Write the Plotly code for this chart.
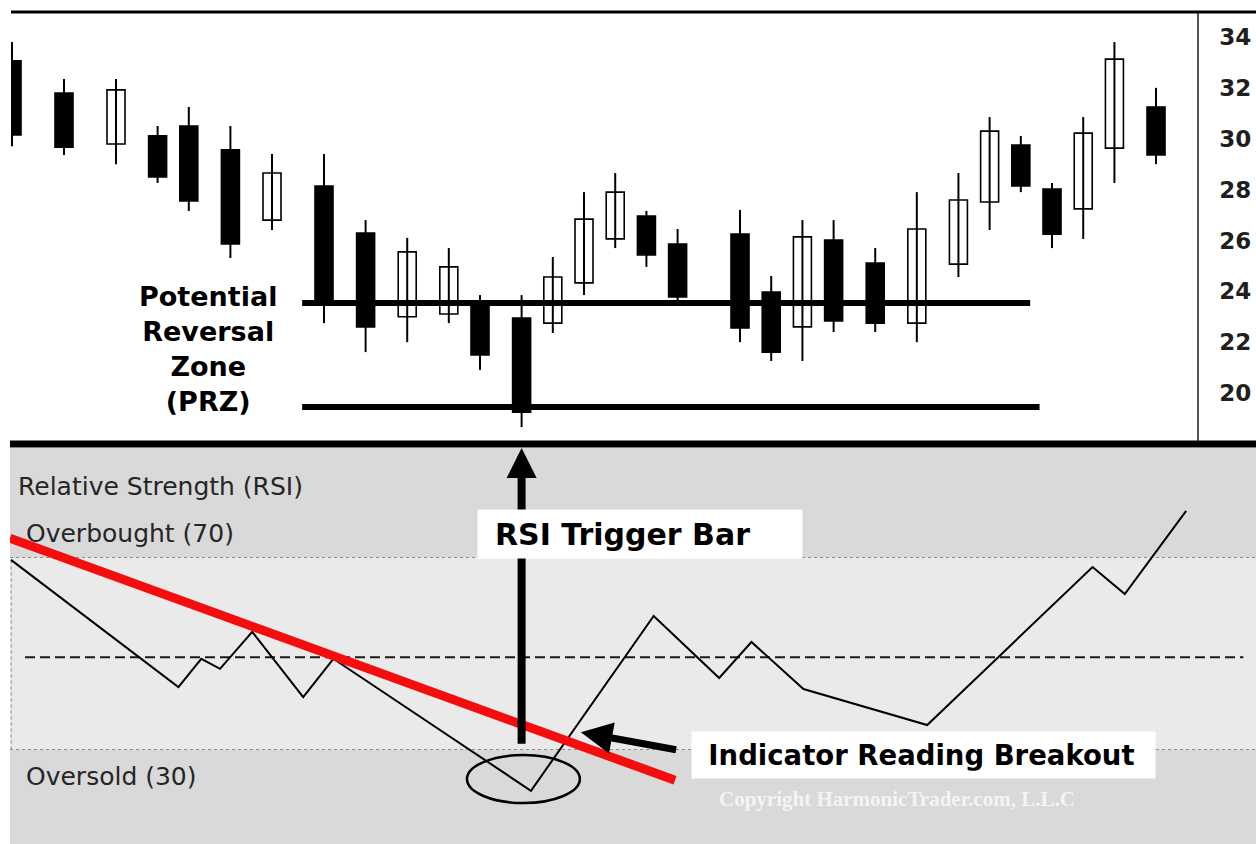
import plotly.graph_objects as go

# ---------------- data ----------------
# bar positions (trading-day index) and OHLC of the price panel
BAR_POS = [0, 5, 10, 14, 17, 21, 25, 30, 34, 38, 42, 45, 49, 52, 55, 58,
           61, 64, 70, 73, 76, 79, 83, 87, 91, 94, 97, 100, 103, 106, 110]
OPEN = [33.06, 31.80, 29.79, 30.11, 30.50, 29.56, 26.80, 28.14, 26.29, 23.00,
        23.11, 23.58, 22.95, 22.75, 24.33, 26.06, 26.96, 25.86, 26.25, 23.97,
        22.60, 26.02, 25.11, 22.75, 25.07, 27.51, 29.75, 28.02, 27.24, 29.63, 31.25]
HIGH = [33.80, 32.35, 32.35, 30.50, 31.25, 30.50, 29.40, 29.40, 26.80, 26.10,
        25.70, 23.85, 23.85, 25.35, 27.90, 28.65, 27.16, 26.45, 27.20, 24.60,
        26.80, 26.80, 25.70, 27.90, 28.65, 30.85, 30.11, 28.26, 30.85, 33.80, 32.00]
LOW = [29.70, 29.36, 29.00, 28.26, 27.16, 25.31, 26.41, 22.75, 21.61, 22.00,
       22.75, 20.91, 18.66, 22.36, 23.85, 25.70, 24.96, 23.54, 22.00, 21.26,
       21.26, 22.40, 22.40, 22.00, 24.56, 26.41, 27.90, 25.70, 26.06, 28.26, 29.00]
CLOSE = [30.15, 29.67, 31.92, 28.50, 27.55, 25.86, 28.65, 23.58, 22.60, 25.55,
         24.96, 21.50, 19.25, 24.56, 26.84, 27.90, 25.43, 23.78, 22.56, 21.61,
         26.14, 22.83, 22.75, 26.45, 27.59, 30.30, 28.14, 26.25, 30.22, 33.13, 29.36]
PRICE_TICKS = [20, 22, 24, 26, 28, 30, 32, 34]

# Potential Reversal Zone levels
PRZ_LEVELS = [23.54, 19.45]
PRZ_START = [27.9, 27.9]
PRZ_END = [97.9, 98.8]

# RSI panel
RSI_X = [-0.1, 16, 18.2, 20, 23.1, 28, 30.9, 49.9, 61.7, 68, 71.1, 76.1, 88, 103.9, 107, 112.9]
RSI_Y = [69.5, 43.0, 48.9, 46.8, 54.5, 40.9, 48.9, 21.4, 57.8, 44.9, 52.4, 42.6, 35.1, 68.0, 62.4, 79.7]
OVERBOUGHT = 70
OVERSOLD = 30
MIDLINE = 49.2
TREND_X = [-0.2, 63.75]
TREND_Y = [74.0, 23.6]
TRIGGER_BAR = 49
BREAKOUT_X, BREAKOUT_Y = 54.7, 33.6

# ---------------- geometry helpers (page pixels -> paper) ----------------
W, H = 1256, 844
def px(x):
    return x / W
def py(y):
    return 1 - y / H

FONT = "DejaVu Sans"

fig = go.Figure()

# wicks
wx, wy = [], []
for p, h, l in zip(BAR_POS, HIGH, LOW):
    wx += [p, p, None]
    wy += [l, h, None]
fig.add_trace(go.Scatter(x=wx, y=wy, mode="lines", line=dict(color="black", width=2),
                         xaxis="x", yaxis="y", hoverinfo="skip"))

# bodies
up = [i for i in range(len(BAR_POS)) if CLOSE[i] >= OPEN[i]]
dn = [i for i in range(len(BAR_POS)) if CLOSE[i] < OPEN[i]]
for idx, fill in ((up, "white"), (dn, "black")):
    fig.add_trace(go.Bar(
        x=[BAR_POS[i] for i in idx],
        y=[abs(CLOSE[i] - OPEN[i]) for i in idx],
        base=[min(CLOSE[i], OPEN[i]) for i in idx],
        width=1.73,
        marker=dict(color=fill, line=dict(color="black", width=1.6)),
        xaxis="x", yaxis="y", hoverinfo="skip"))

# PRZ lines
for lvl, x0, x1 in zip(PRZ_LEVELS, PRZ_START, PRZ_END):
    fig.add_trace(go.Scatter(x=[x0, x1], y=[lvl, lvl], mode="lines",
                             line=dict(color="black", width=6),
                             xaxis="x", yaxis="y", hoverinfo="skip"))

# RSI line
fig.add_trace(go.Scatter(x=RSI_X, y=RSI_Y, mode="lines", line=dict(color="black", width=2),
                         xaxis="x2", yaxis="y2", hoverinfo="skip"))
# trend line
fig.add_trace(go.Scatter(x=TREND_X, y=TREND_Y, mode="lines", line=dict(color="#f40d0d", width=9),
                         xaxis="x2", yaxis="y2", hoverinfo="skip"))

shapes = [
    # RSI background
    dict(type="rect", xref="x2 domain", yref="y2 domain", x0=0, x1=1, y0=0, y1=1,
         fillcolor="#d9d9d9", line=dict(width=0), layer="below"),
    dict(type="rect", xref="x2 domain", yref="y2", x0=0, x1=1, y0=OVERSOLD, y1=OVERBOUGHT,
         fillcolor="#eaeaea", line=dict(width=0), layer="below"),
    dict(type="line", xref="x2 domain", yref="y2", x0=0, x1=1, y0=OVERBOUGHT, y1=OVERBOUGHT,
         line=dict(color="#8c8c8c", width=1, dash="dot"), layer="below"),
    dict(type="line", xref="x2 domain", yref="y2", x0=0, x1=1, y0=OVERSOLD, y1=OVERSOLD,
         line=dict(color="#8c8c8c", width=1, dash="dot"), layer="below"),
    dict(type="line", xref="x2 domain", yref="y2", x0=0.001, x1=0.001, y0=OVERSOLD, y1=OVERBOUGHT,
         line=dict(color="#8c8c8c", width=1, dash="dot"), layer="below"),
    dict(type="line", xref="x2", yref="y2", x0=1.25, x1=118.4, y0=MIDLINE, y1=MIDLINE,
         line=dict(color="#1a1a1a", width=2, dash="10px,5px"), layer="below"),
    # ellipse around the RSI low
    dict(type="circle", xref="x2", yref="y2", x0=43.75, x1=54.6, y0=18.85, y1=28.85,
         line=dict(color="black", width=2.5)),
    # frame lines
    dict(type="line", xref="paper", yref="paper", x0=px(11), x1=1, y0=py(12), y1=py(12),
         line=dict(color="black", width=3)),
    dict(type="line", xref="paper", yref="paper", x0=px(10), x1=1, y0=py(444), y1=py(444),
         line=dict(color="black", width=7)),
]

annotations = [
    dict(x=px(208), y=py(349), xref="paper", yref="paper", xanchor="center", yanchor="middle",
         text="Potential<br>Reversal<br>Zone<br>(PRZ)", showarrow=False, align="center",
         font=dict(family=FONT, size=27, color="black", weight="bold")),
    dict(x=px(16), y=py(486), xref="paper", yref="paper", xanchor="left", yanchor="middle",
         text="Relative Strength (RSI)", showarrow=False,
         font=dict(family=FONT, size=25, color="#262626")),
    dict(x=px(24), y=py(533), xref="paper", yref="paper", xanchor="left", yanchor="middle",
         text="Overbought (70)", showarrow=False,
         font=dict(family=FONT, size=25, color="#262626")),
    dict(x=px(24), y=py(776), xref="paper", yref="paper", xanchor="left", yanchor="middle",
         text="Oversold (30)", showarrow=False,
         font=dict(family=FONT, size=25, color="#262626")),
    # vertical trigger arrow
    dict(x=TRIGGER_BAR, y=92.8, xref="x2", yref="y2", ax=TRIGGER_BAR, ay=30.9,
         axref="x2", ayref="y2", text="", showarrow=True, arrowhead=2,
         arrowwidth=8, arrowsize=0.75, arrowcolor="black"),
    dict(x=px(640), y=py(534), xref="paper", yref="paper", xanchor="center", yanchor="middle",
         text="\u00a0RSI Trigger Bar", showarrow=False, align="left", width=311,
         bgcolor="white", borderpad=6.5,
         font=dict(family=FONT, size=30, color="black", weight="bold")),
    # breakout arrow
    dict(x=BREAKOUT_X, y=BREAKOUT_Y, xref="x2", yref="y2", ax=64.0, ay=29.9,
         axref="x2", ayref="y2", text="", showarrow=True, arrowhead=2,
         arrowwidth=7, arrowsize=0.9, arrowcolor="black"),
    dict(x=px(923.5), y=py(754.5), xref="paper", yref="paper", xanchor="center", yanchor="middle",
         text="\u00a0Indicator Reading Breakout", showarrow=False, align="left", width=449,
         bgcolor="white", borderpad=6.8,
         font=dict(family=FONT, size=27.5, color="black", weight="bold")),
    dict(x=px(717), y=py(799), xref="paper", yref="paper", xanchor="left", yanchor="middle",
         text="Copyright HarmonicTrader.com, L.L.C", showarrow=False,
         font=dict(family="Liberation Serif", size=21, color="#f4f4f4", weight="bold")),
]

fig.update_layout(
    width=W, height=H, margin=dict(l=0, r=0, t=0, b=0),
    paper_bgcolor="white", plot_bgcolor="white",
    showlegend=False, hovermode=False, barmode="overlay",
    xaxis=dict(domain=[px(11), px(1197)], range=[-0.096, 113.94], anchor="y",
               visible=False, fixedrange=True),
    yaxis=dict(domain=[py(443), py(12)], range=[18.035, 34.983], anchor="x", side="right",
               tickvals=PRICE_TICKS, ticktext=[str(t) for t in PRICE_TICKS],
               showgrid=False, zeroline=False, showline=True, linecolor="#555555",
               linewidth=1.5, ticks="", ticklabelstandoff=16,
               tickfont=dict(family=FONT, size=23, color="#1f1f1f", weight="bold"),
               fixedrange=True),
    xaxis2=dict(domain=[px(10), 1], range=[-0.192, 119.615], anchor="y2",
                visible=False, fixedrange=True),
    yaxis2=dict(domain=[0, py(448)], range=[10.31, 92.81], anchor="x2",
                visible=False, fixedrange=True),
    shapes=shapes, annotations=annotations,
)

fig.write_html("out.html", include_plotlyjs=True, config={"displayModeBar": False},
               post_script="document.body.style.margin='0';")
